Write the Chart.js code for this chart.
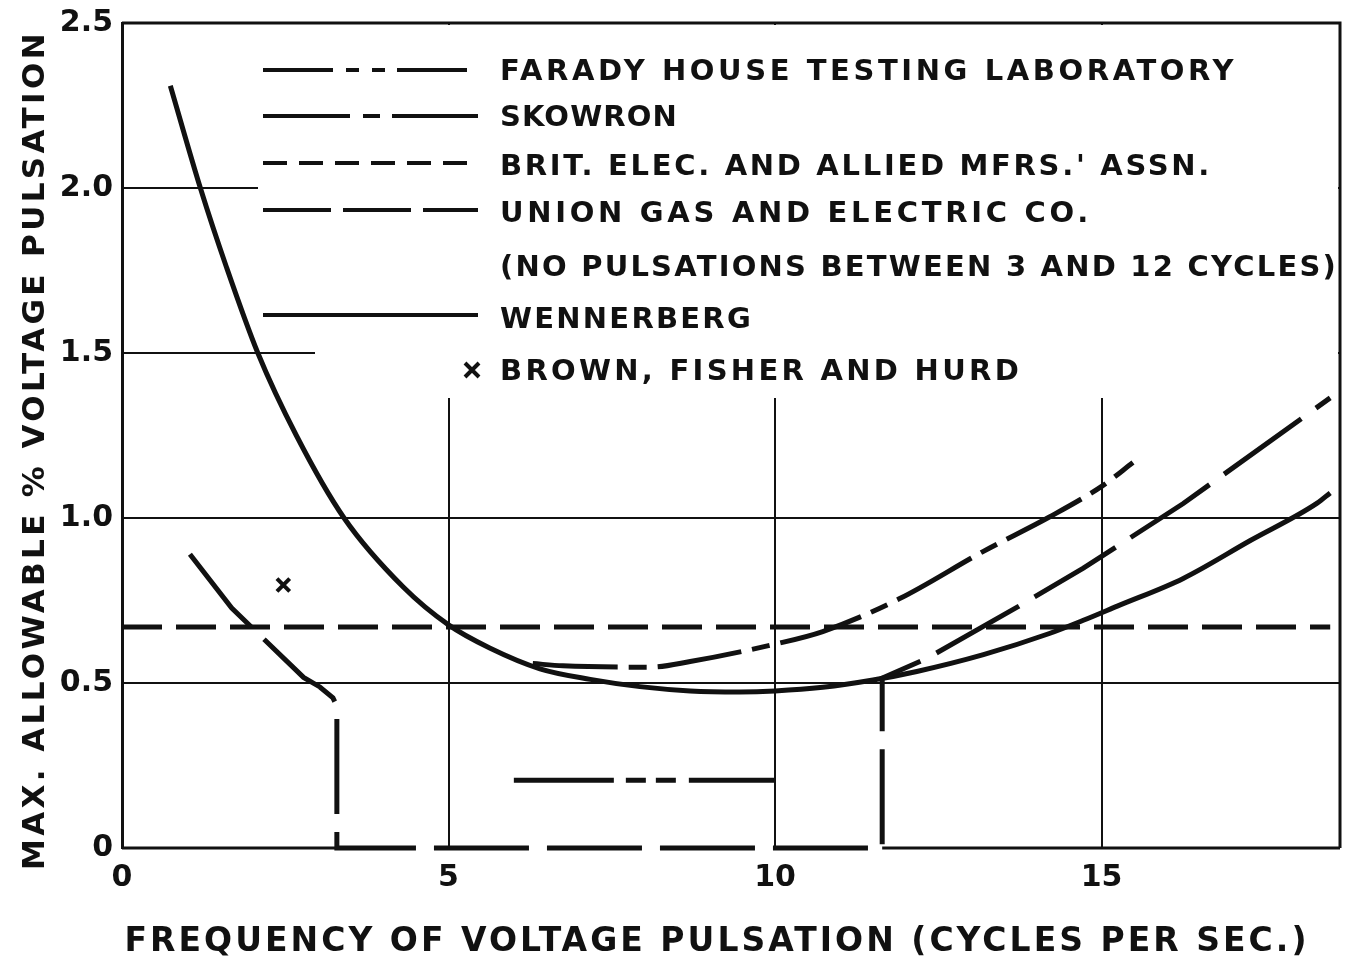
<!DOCTYPE html>
<html>
<head>
<meta charset="utf-8">
<script src="https://cdn.jsdelivr.net/npm/chart.js@4"></script>
<style>
  html, body { margin: 0; padding: 0; background: #fff; }
  canvas { display: block; }
</style>
</head>
<body>
<canvas id="pulsChart" width="1346" height="978"></canvas>
<script>
// values
var xTicks = [0, 5, 10, 15];
var yTicks = [0, 0.5, 1.0, 1.5, 2.0, 2.5];
var yTickLabels = ['0', '0.5', '1.0', '1.5', '2.0', '2.5'];

var faradyX = [6.0, 10.0];
var faradyY = [0.205, 0.205];

var skowronX = [6.29, 6.75, 8.08, 8.7, 10.0, 10.73, 11.9, 13.19, 14.2, 15.0, 15.48];
var skowronY = [0.559, 0.552, 0.548, 0.565, 0.618, 0.656, 0.755, 0.899, 1.003, 1.096, 1.168];

var britX = [0, 18.5];
var britY = [0.67, 0.67];

var unionX = [1.04, 1.68, 2.78, 3.03, 3.23, 3.29, 3.29, 11.64, 11.64, 12.33, 13.7, 14.72, 16.25, 18.5];
var unionY = [0.89, 0.727, 0.517, 0.488, 0.455, 0.43, 0, 0, 0.515, 0.575, 0.729, 0.848, 1.044, 1.364];

var wennX = [0.74, 1.2, 1.6, 2.08, 2.67, 3.4, 4.31, 5.0, 5.63, 6.4, 7.17, 7.93, 8.7, 9.46, 10.0, 10.73, 11.5, 12.17, 13.19, 14.2, 14.72, 15.24, 16.25, 17.27, 18.3, 18.5];
var wennY = [2.31, 2.0, 1.76, 1.5, 1.25, 1.0, 0.79, 0.676, 0.606, 0.543, 0.511, 0.489, 0.476, 0.473, 0.476, 0.487, 0.509, 0.535, 0.586, 0.65, 0.69, 0.733, 0.817, 0.931, 1.045, 1.076];

var brownX = [2.47];
var brownY = [0.797];

var legendRows = [
  'FARADY HOUSE TESTING LABORATORY',
  'SKOWRON',
  'BRIT. ELEC. AND ALLIED MFRS.\' ASSN.',
  'UNION GAS AND ELECTRIC CO.',
  '(NO PULSATIONS BETWEEN 3 AND 12 CYCLES)',
  'WENNERBERG',
  'BROWN, FISHER AND HURD'
];
var xTitle = 'FREQUENCY OF VOLTAGE PULSATION (CYCLES PER SEC.)';
var yTitle = 'MAX. ALLOWABLE % VOLTAGE PULSATION';

var INK = '#111';
var FONT = '"DejaVu Sans", sans-serif';

function pts(xs, ys) {
  return xs.map(function(x, i) { return { x: x, y: ys[i] }; });
}

// text with letter spacing stretched to a given width
function spaced(ctx, text, x, y, width, align) {
  ctx.letterSpacing = '0px';
  var w0 = ctx.measureText(text).width;
  var s = (width - w0) / text.length;
  ctx.letterSpacing = s + 'px';
  ctx.textAlign = 'left';
  var start = align === 'center' ? x - width / 2 : x;
  ctx.fillText(text, start, y);
  ctx.letterSpacing = '0px';
}

var framePlugin = {
  id: 'frame',
  beforeDatasetsDraw: function(chart) {
    var ctx = chart.ctx, a = chart.chartArea;
    var xs = chart.scales.x;
    ctx.save();
    // white area behind the key, grid lines stop at it
    ctx.fillStyle = '#fff';
    ctx.fillRect(258, a.top + 2, a.right - 260, 270 - a.top);
    ctx.fillRect(315, 268, a.right - 317, 130);
    ctx.strokeStyle = INK;
    ctx.lineWidth = 3;
    ctx.beginPath();
    ctx.moveTo(a.left, a.top);
    ctx.lineTo(a.right, a.top);
    ctx.lineTo(a.right, a.bottom);
    ctx.stroke();
    // bottom edge is solid only outside the "no pulsation" band
    var zeros = unionX.filter(function(x, i) { return unionY[i] === 0; });
    var x0 = xs.getPixelForValue(Math.min.apply(null, zeros));
    var x1 = xs.getPixelForValue(Math.max.apply(null, zeros));
    ctx.beginPath();
    ctx.moveTo(a.left, a.bottom);
    ctx.lineTo(x0, a.bottom);
    ctx.moveTo(x1, a.bottom);
    ctx.lineTo(a.right, a.bottom);
    ctx.stroke();
    ctx.restore();
  },
  afterDraw: function(chart) {
    var ctx = chart.ctx;
    ctx.save();
    ctx.fillStyle = INK;
    ctx.strokeStyle = INK;
    ctx.textBaseline = 'middle';

    // key
    var rowsY = [72, 118, 167, 214, 268, 320, 372];
    var rowsW = [737, 178, 712, 592, 838, 253, 522];
    var lineY = [70, 116, 163, 210, null, 315];
    var order = [0, 1, 2, 3, null, 4];
    ctx.font = 'bold 29px ' + FONT;
    legendRows.forEach(function(t, i) {
      spaced(ctx, t, 500, rowsY[i], rowsW[i], 'left');
    });
    lineY.forEach(function(y, i) {
      if (y === null) return;
      var ds = chart.data.datasets[order[i]];
      ctx.beginPath();
      ctx.lineWidth = 4;
      ctx.setLineDash(ds.keyDash || []);
      ctx.moveTo(263, y);
      ctx.lineTo(478, y);
      ctx.stroke();
    });
    ctx.setLineDash([]);
    // x marker of the key
    ctx.lineWidth = 4;
    ctx.beginPath();
    ctx.moveTo(465, 363); ctx.lineTo(479, 377);
    ctx.moveTo(479, 363); ctx.lineTo(465, 377);
    ctx.stroke();

    // axis titles
    ctx.font = 'bold 33px ' + FONT;
    spaced(ctx, xTitle, 717, 942, 1185, 'center');
    ctx.translate(36, 450);
    ctx.rotate(-Math.PI / 2);
    ctx.font = 'bold 31px ' + FONT;
    spaced(ctx, yTitle, 0, 0, 840, 'center');
    ctx.restore();
  }
};

document.addEventListener('DOMContentLoaded', function() {
  var ctx = document.getElementById('pulsChart').getContext('2d');
  var pulsChart = new Chart(ctx, {
    type: 'line',
    data: {
      datasets: [{
          label: 'Farady House Testing Laboratory',
          data: pts(faradyX, faradyY),
          borderColor: INK,
          borderWidth: 5,
          borderDash: [100, 12, 20, 10, 20, 13],
          keyDash: [70, 13, 13, 13, 13, 12],
          pointRadius: 0
        },
        {
          label: 'Skowron',
          data: pts(skowronX, skowronY),
          borderColor: INK,
          borderWidth: 5,
          borderDash: [85, 11, 18, 11],
          keyDash: [87, 13, 17, 12],
          cubicInterpolationMode: 'monotone',
          pointRadius: 0
        },
        {
          label: 'Brit. Elec. and Allied Mfrs.\' Assn.',
          data: pts(britX, britY),
          borderColor: INK,
          borderWidth: 5,
          borderDash: [40, 14],
          keyDash: [24, 12],
          pointRadius: 0
        },
        {
          label: 'Union Gas and Electric Co.',
          data: pts(unionX, unionY),
          borderColor: INK,
          borderWidth: 5,
          borderDash: [95, 18],
          keyDash: [68, 12],
          tension: 0,
          clip: 8,
          pointRadius: 0
        },
        {
          label: 'Wennerberg',
          data: pts(wennX, wennY),
          borderColor: INK,
          borderWidth: 5,
          cubicInterpolationMode: 'monotone',
          pointRadius: 0
        },
        {
          label: 'Brown, Fisher and Hurd',
          data: pts(brownX, brownY),
          showLine: false,
          borderColor: INK,
          pointStyle: 'crossRot',
          pointRadius: 9,
          pointBorderWidth: 4
        }
      ]
    },
    options: {
      responsive: false,
      devicePixelRatio: 1,
      animation: false,
      layout: { autoPadding: false, padding: { top: 23, right: 6, left: 0, bottom: 0 } },
      plugins: {
        legend: { display: false },
        tooltip: { enabled: false }
      },
      scales: {
        x: {
          type: 'linear',
          min: 0,
          max: 18.65,
          afterBuildTicks: function(s) { s.ticks = xTicks.map(function(v) { return { value: v }; }); },
          afterFit: function(s) {
            s.height = 130;
            s.paddingLeft = 0;
            s.paddingRight = 0;
          },
          border: { display: false },
          grid: {
            drawTicks: false,
            lineWidth: 2,
            color: function(c) { return c.tick && c.tick.value === 0 ? 'rgba(0,0,0,0)' : INK; }
          },
          ticks: {
            color: INK,
            padding: 12,
            maxRotation: 0,
            font: { family: FONT, size: 30, weight: 'bold' },
            callback: function(v) { return String(v); }
          }
        },
        y: {
          min: 0,
          max: 2.5,
          afterBuildTicks: function(s) { s.ticks = yTicks.map(function(v) { return { value: v }; }); },
          afterFit: function(s) {
            s.width = 122;
            s.paddingTop = 0;
            s.paddingBottom = 0;
          },
          border: { display: true, color: INK, width: 3 },
          grid: {
            drawTicks: false,
            lineWidth: 2,
            color: function(c) {
              var v = c.tick && c.tick.value;
              return (v === 0 || v === 2.5) ? 'rgba(0,0,0,0)' : INK;
            }
          },
          ticks: {
            color: INK,
            padding: 9,
            font: { family: FONT, size: 30, weight: 'bold' },
            callback: function(v, i) { return yTickLabels[i]; }
          }
        }
      }
    },
    plugins: [framePlugin]
  });
});
</script>
</body>
</html>
